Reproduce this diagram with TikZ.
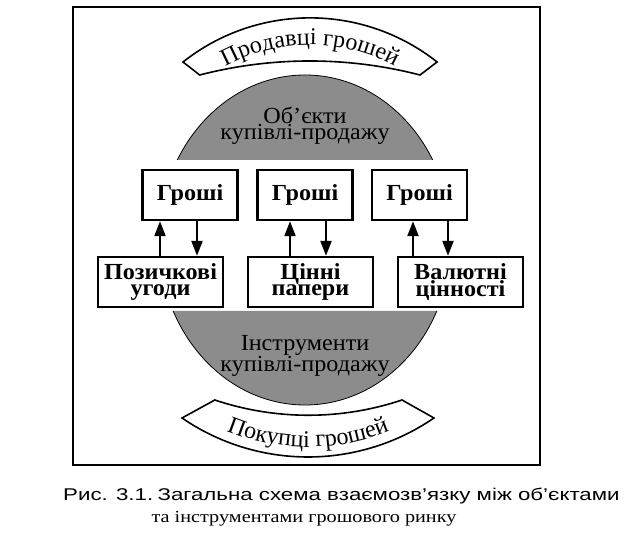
\documentclass[tikz,border=0pt]{standalone}
\usepackage{fontspec}
\setmainfont{Liberation Serif}[FakeStretch=1.05]
\newfontfamily\capsans{Liberation Sans}[FakeStretch=1.31]
\newfontfamily\capserif{Liberation Serif}[FakeStretch=1.19]
\newfontfamily\bannerserif{Liberation Serif}
\newcommand\bannerfont{\bannerserif\fontsize{24}{28}\selectfont}
\usetikzlibrary{arrows.meta,decorations.text}
\begin{document}
\begin{tikzpicture}[x=1pt,y=1pt,
    money/.style={draw,line width=2.4pt,minimum width=95pt,minimum height=50pt,
      inner sep=0pt,font=\fontsize{23}{16}\selectfont\bfseries},
    deal/.style={money,minimum width=125pt,align=center},
    arr/.style={line width=2.2pt,-{Triangle[length=15pt,width=11pt]}},
    banner/.style={draw,line width=1.6pt,fill=white},
    title/.style={font=\fontsize{23}{16}\selectfont,align=center},
    caption/.style={inner sep=0pt,font=\fontsize{17}{20}\selectfont}]
  \useasboundingbox (0,0) rectangle (624,546);
  \draw[line width=2.6pt] (73,81) rectangle (540,539);
  % ellipse, cut in the middle
  \begin{scope}
    \clip (60,386) rectangle (560,540) (60,90) rectangle (560,235);
    \draw[fill=black!45,line width=0.8pt] (305,306) ellipse[x radius=146,y radius=165];
  \end{scope}
  % banners
  \draw[banner] (183,484) arc[start angle=128.3,end angle=51.7,radius=205]
    -- (420,471) arc[start angle=75.5,end angle=104.5,radius=440] -- cycle;
  \draw[banner] (182,128) arc[start angle=235.6,end angle=304.4,radius=223]
    -- (402,146) arc[start angle=288.5,end angle=251.5,radius=295] -- cycle;
  \path[decorate,decoration={text along path,text align=center,
      text={|\bannerfont|Продавці грошей}}]
    (207.9,468.8) arc[start angle=125,end angle=55,radius=178];
  \path[decorate,decoration={text along path,text align=center,
      text={|\bannerfont|Покупці грошей}}]
    (201.5,127.5) arc[start angle=240,end angle=300,radius=213];
  \path
    (190,351) node[money] (g1) {Гроші}
    (305,351) node[money] (g2) {Гроші}
    (419.5,351) node[money] (g3) {Гроші}
    (160.5,264) node[deal] (d1) {Позичкові\\угоди}
    (310.5,264) node[deal] (d2) {Цінні\\папери}
    (460.5,264) node[deal] (d3) {Валютні\\цінності}
    (305,420) node[title] (obj) {Об’єкти\\купівлі-продажу}
    (305,190) node[title] (ins) {Інструменти\\купівлі-продажу};
  \begin{scope}[arr]
    \foreach \n/\u/\d in {1/160/197,2/290/326,3/413/448} {
      \draw (d\n.north -| \u,0) -- (g\n.south -| \u,0);
      \draw (g\n.south -| \d,0) -- (d\n.north -| \d,0);
    }
  \end{scope}
  % caption
  \node[caption,anchor=base west] (fig) at (63,45) {\capsans Рис. 3.1.};
  \node[caption,anchor=base west] (cap1) at ([xshift=4pt]fig.base east)
    {\capsans Загальна схема взаємозв’язку між об’єктами};
  \node[caption,anchor=base west] (cap2) at ([xshift=-6pt,yshift=-22pt]cap1.base west)
    {\capserif та інструментами грошового ринку};
\end{tikzpicture}
\end{document}
